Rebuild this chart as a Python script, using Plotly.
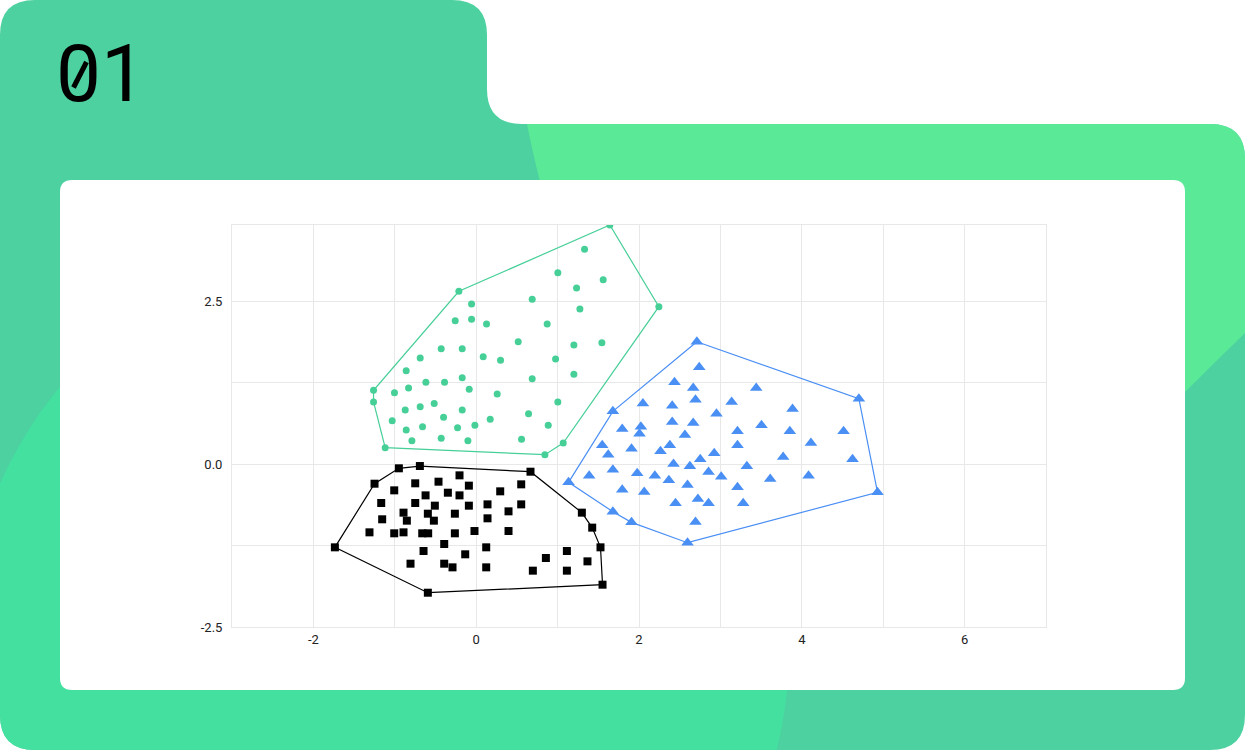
import numpy as np
import plotly.graph_objects as go

# ---------------- data ----------------
green_x = [1.642, 1.331, 1.003, 1.560, 1.233, -0.213, -0.057, 0.688, 2.244, 1.274,
           -0.258, -0.057, 0.127, 0.872, 0.516, 1.200, 1.544, -0.430, -0.172, -0.688,
           0.086, 0.299, 0.975, -0.860, 1.200, 0.688, -0.172, -0.389, -0.618, -0.831,
           -1.261, -1.004, -0.086, 0.258, -1.261, 1.003, -0.872, -0.688, -0.516, -0.172,
           -0.401, 0.643, -1.032, 0.172, -0.860, -0.659, -0.229, -0.016, 0.885, -0.790,
           -0.430, -0.102, 0.557, 1.069, -1.118, 0.844]
green_y = [3.666, 3.293, 2.934, 2.827, 2.699, 2.649, 2.454, 2.526, 2.413, 2.377,
           2.198, 2.219, 2.147, 2.147, 1.876, 1.825, 1.861, 1.769, 1.769, 1.626,
           1.646, 1.590, 1.610, 1.431, 1.376, 1.308, 1.324, 1.253, 1.253, 1.166,
           1.130, 1.094, 1.145, 1.074, 0.951, 0.951, 0.828, 0.879, 0.930, 0.828,
           0.716, 0.772, 0.665, 0.685, 0.521, 0.572, 0.557, 0.593, 0.593, 0.358,
           0.394, 0.358, 0.379, 0.322, 0.250, 0.143]
green_hull = [0, 8, 53, 55, 54, 34, 30, 5, 0]

blue_x = [2.711, 2.740, 2.436, 2.666, 3.440, 4.701, 2.048, 2.408, 2.694, 3.138,
          1.679, 3.886, 2.952, 2.408, 2.666, 1.794, 2.023, 2.006, 3.505, 3.210,
          3.853, 4.513, 2.564, 1.548, 1.908, 2.379, 3.210, 4.112, 1.622, 2.264,
          2.924, 3.771, 4.623, 2.424, 2.752, 2.625, 3.325, 1.388, 1.679, 1.978,
          2.195, 2.367, 2.854, 3.010, 3.612, 4.083, 1.134, 1.794, 2.064, 2.596,
          3.210, 4.930, 2.449, 2.724, 2.854, 3.280, 1.679, 1.908, 2.694, 2.596]
blue_y = [1.876, 1.483, 1.253, 1.166, 1.166, 1.002, 0.930, 0.895, 0.986, 0.951,
          0.808, 0.844, 0.772, 0.644, 0.629, 0.537, 0.572, 0.465, 0.593, 0.501,
          0.501, 0.501, 0.445, 0.286, 0.235, 0.286, 0.286, 0.322, 0.143, 0.194,
          0.164, 0.107, 0.072, 0.000, 0.072, -0.036, -0.036, -0.179, -0.087, -0.143,
          -0.179, -0.250, -0.123, -0.194, -0.230, -0.179, -0.281, -0.394, -0.429, -0.322,
          -0.358, -0.434, -0.603, -0.537, -0.603, -0.603, -0.731, -0.895, -0.890, -1.207]
blue_hull = [0, 5, 51, 59, 57, 56, 46, 10, 0]

black_x = [-0.950, -0.692, 0.667, -1.249, -0.205, -0.749, -0.463, -0.090, 0.553, -1.007,
           -0.622, -0.348, -0.205, 0.295, -1.167, -0.749, -0.508, -0.090, 0.139, 0.553,
           -0.893, -0.594, -0.262, 0.397, 1.298, -1.155, -0.852, -0.520, 0.139, 1.425,
           -1.311, -1.007, -0.893, -0.663, -0.590, -0.262, -0.021, 0.397, -1.736, -0.393,
           0.123, 1.527, -0.647, -0.135, 1.114, 0.856, 1.367, -0.807, -0.393, -0.291,
           0.123, 0.696, 1.114, 1.552, -0.594]
black_y = [-0.066, -0.031, -0.118, -0.302, -0.174, -0.296, -0.271, -0.332, -0.312, -0.404,
           -0.481, -0.440, -0.481, -0.419, -0.598, -0.598, -0.639, -0.639, -0.619, -0.619,
           -0.746, -0.762, -0.762, -0.726, -0.746, -0.848, -0.869, -0.869, -0.833, -0.976,
           -1.048, -1.063, -1.048, -1.063, -1.063, -1.063, -1.028, -1.028, -1.278, -1.227,
           -1.278, -1.278, -1.334, -1.385, -1.334, -1.442, -1.493, -1.529, -1.529, -1.585,
           -1.585, -1.636, -1.636, -1.851, -1.974]
black_hull = [1, 2, 24, 29, 41, 53, 54, 38, 3, 0, 1]

x_ticks = [-2, 0, 2, 4, 6]
y_ticks = [-2.5, 0.0, 2.5]
logo_text = "01"

# ---------------- layout geometry ----------------
W, H = 1245, 750
ML, MR, MT, MB = 232, 199, 225, 123
PW, PH = W - ML - MR, H - MT - MB

GREEN = "#47CF98"
BLUE = "#4A8FF4"
BLACK = "#000000"
TEAL = "#4DD1A0"
LIGHT1 = "#5AEA97"
LIGHT2 = "#43E0A0"


def px(x):
    return (x - ML) / PW


def py(y):
    return (H - MB - y) / PH


def path_from(points_cmds):
    out = []
    for cmd, pts in points_cmds:
        if cmd == "L":
            for a, b in pts:
                out.append(f"L{px(a):.5f},{py(b):.5f}")
        else:
            coords = " ".join(f"{px(a):.5f},{py(b):.5f}" for a, b in pts)
            out.append(f"{cmd}{coords}")
    return " ".join(out) + " Z"


R = 35
outline = path_from([
    ("M", [(0, R)]), ("Q", [(0, 0), (R, 0)]), ("L", [(487 - R, 0)]),
    ("Q", [(487, 0), (487, R)]), ("L", [(487, 124 - R)]),
    ("Q", [(487, 124), (487 + R, 124)]), ("L", [(W - R, 124)]),
    ("Q", [(W, 124), (W, 124 + R)]), ("L", [(W, H - R)]),
    ("Q", [(W, H), (W - R, H)]), ("L", [(R, H)]),
    ("Q", [(0, H), (0, H - R)]),
])

blob1 = path_from([
    ("M", [(527, 124)]), ("L", [(W - R, 124)]), ("Q", [(W, 124), (W, 124 + R)]),
    ("L", [(W, 333)]), ("Q", [(1215, 362), (1185, 392)]),
    ("L", [(1100, 470), (700, 470), (570, 290)]),
    ("Q", [(540, 190), (527, 124)]),
])

cx, cy, rr = 377, 650, 412
a0 = np.arctan2(-np.sqrt(rr**2 - cx**2), -cx)
a1 = np.arctan2(H - cy, np.sqrt(rr**2 - (H - cy) ** 2))
angs = np.linspace(a0, a1, 90)
arc = [(cx + rr * np.cos(t), cy + rr * np.sin(t)) for t in angs]
blob2 = path_from([
    ("M", [arc[0]]), ("L", arc[1:] + [(R, H)]),
    ("Q", [(0, H), (0, H - R)]),
])

r2 = 12
card = path_from([
    ("M", [(60, 180 + r2)]), ("Q", [(60, 180), (60 + r2, 180)]),
    ("L", [(1185 - r2, 180)]), ("Q", [(1185, 180), (1185, 180 + r2)]),
    ("L", [(1185, 690 - r2)]), ("Q", [(1185, 690), (1185 - r2, 690)]),
    ("L", [(60 + r2, 690)]), ("Q", [(60, 690), (60, 690 - r2)]),
])

shapes = []
for p, c in [(outline, TEAL), (blob1, LIGHT1), (blob2, LIGHT2), (card, "#FFFFFF")]:
    shapes.append(dict(type="path", path=p, xref="paper", yref="paper",
                       fillcolor=c, line=dict(width=0), layer="below"))
# slash of the logo zero
shapes.append(dict(type="line", xref="paper", yref="paper",
                   x0=px(73.5), y0=py(87.5), x1=px(86.5), y1=py(62),
                   line=dict(color="black", width=5), layer="above"))

fig = go.Figure()


def add_cluster(xs, ys, hull, color, symbol, size):
    hx = [xs[i] for i in hull]
    hy = [ys[i] for i in hull]
    fig.add_trace(go.Scatter(x=hx, y=hy, mode="lines",
                             line=dict(color=color, width=1.2),
                             hoverinfo="skip", showlegend=False))
    fig.add_trace(go.Scatter(x=xs, y=ys, mode="markers",
                             marker=dict(color=color, symbol=symbol, size=size,
                                         line=dict(width=0)),
                             showlegend=False))


add_cluster(green_x, green_y, green_hull, GREEN, "circle", 7)
add_cluster(blue_x, blue_y, blue_hull, BLUE, "triangle-up", 11)
add_cluster(black_x, black_y, black_hull, BLACK, "square", 8)

fig.update_layout(
    width=W, height=H,
    margin=dict(l=ML, r=MR, t=MT, b=MB, pad=0),
    paper_bgcolor="#FFFFFF",
    plot_bgcolor="rgba(0,0,0,0)",
    shapes=shapes,
    font=dict(family="Roboto, Arial, sans-serif", size=13, color="#222222"),
    annotations=[dict(text=f"<span style='font-family:Roboto,Arial,sans-serif'>{logo_text}</span>",
                      xref="paper", yref="paper",
                      x=px(54), y=py(74), xanchor="left", yanchor="middle",
                      showarrow=False,
                      font=dict(family="Roboto, Arial, sans-serif", size=80, color="black"))],
)
fig.update_xaxes(range=[-3, 7], tickvals=x_ticks, ticktext=[str(v) for v in x_ticks],
                 showgrid=True, gridcolor="#E8E8E8", gridwidth=1,
                 minor=dict(dtick=1, tick0=0, showgrid=True, gridcolor="#E8E8E8", gridwidth=1),
                 zeroline=False, showline=True, mirror=True, linecolor="#E8E8E8",
                 linewidth=1, ticks="", fixedrange=True)
fig.update_yaxes(range=[-2.5, 3.666], tickvals=y_ticks, ticktext=[f"{v:.1f}" for v in y_ticks],
                 showgrid=True, gridcolor="#E8E8E8", gridwidth=1,
                 minor=dict(dtick=1.25, tick0=0, showgrid=True, gridcolor="#E8E8E8", gridwidth=1),
                 zeroline=False, showline=True, mirror=True, linecolor="#E8E8E8",
                 linewidth=1, ticks="", ticklabelstandoff=6, fixedrange=True)

fig.write_html("out.html", config=dict(displayModeBar=False),
               post_script="document.body.style.margin='0';document.body.style.overflow='hidden';")
